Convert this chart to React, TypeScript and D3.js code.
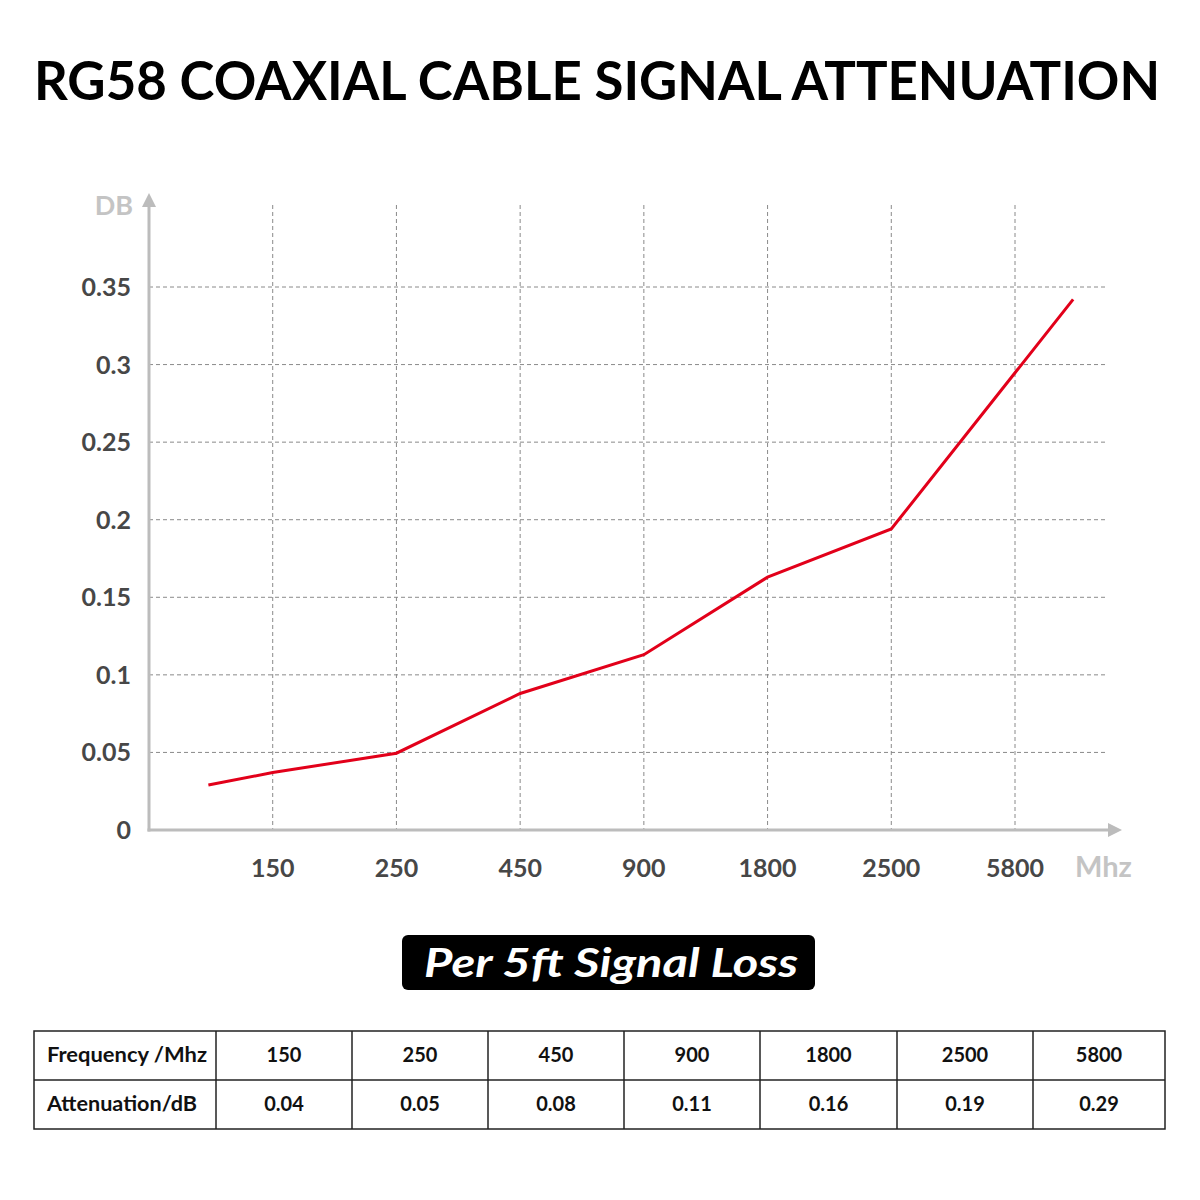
import * as d3 from "d3";
import React from "react";

const frequencies = ["150", "250", "450", "900", "1800", "2500", "5800"];
const tableValues = ["0.04", "0.05", "0.08", "0.11", "0.16", "0.19", "0.29"];
const yTicks = [0, 0.05, 0.1, 0.15, 0.2, 0.25, 0.3, 0.35];
// line slot positions (0 = y axis, 1..7 = categories) and values in dB
const lineSlots = [0.48, 1, 2, 3, 4, 5, 6, 7.47];
const lineValues = [0.029, 0.037, 0.0495, 0.088, 0.113, 0.163, 0.194, 0.342];
const rowHeaders = ["Frequency /Mhz", "Attenuation/dB"];

const FONT = "Lato, 'DejaVu Sans', sans-serif";

const App = () => {
	const x0 = 149,
		y0 = 830;
	const x = d3.scaleLinear().domain([0, 7]).range([x0, 1015]);
	const y = d3.scaleLinear().domain([0, 0.35]).range([y0, 287]);

	const line = d3
		.line<number>()
		.x((_, i) => x(lineSlots[i]))
		.y((d) => y(d));

	const axisColor = "#bcbcbc";
	const gridColor = "#8a8a8a";

	const tableLeft = 34,
		tableRight = 1165,
		tableTop = 1031,
		rowH = 49;
	const colEdges = [tableLeft, 216, 352, 488, 624, 760, 897, 1033, tableRight];

	return (
		<svg width={1200} height={1200} style={{ display: "block", position: "absolute", left: 0, top: 0 }}>
			<rect width={1200} height={1200} fill="#fff" />
			<text
				x={34}
				y={100}
				fontFamily={FONT}
				fontWeight={700}
				fontSize={54}
				textLength={1126}
				lengthAdjust="spacingAndGlyphs"
				fill="#000"
			>
				RG58 COAXIAL CABLE SIGNAL ATTENUATION
			</text>

			{/* grid */}
			<g stroke={gridColor} strokeWidth={1} strokeDasharray="4,3">
				{yTicks.slice(1).map((t) => (
					<line key={t} x1={x0} x2={1105} y1={y(t)} y2={y(t)} />
				))}
				{frequencies.map((f, i) => (
					<line key={f} x1={x(i + 1)} x2={x(i + 1)} y1={205} y2={y0} />
				))}
			</g>

			{/* axes */}
			<g stroke={axisColor} strokeWidth={3} fill="none">
				<line x1={x0} x2={x0} y1={y0 + 1.5} y2={203} />
				<line x1={x0 - 1.5} x2={1112} y1={y0} y2={y0} />
			</g>
			<path d={`M${x0 - 7},${207} L${x0},${193} L${x0 + 7},${207} Z`} fill={axisColor} />
			<path d={`M${1108},${y0 - 7} L${1122},${y0} L${1108},${y0 + 7} Z`} fill={axisColor} />

			<text x={133} y={215} textAnchor="end" fontFamily={FONT} fontWeight={700} fontSize={27} fill="#c4c4c4">
				DB
			</text>
			<text x={1075} y={877} fontFamily={FONT} fontWeight={700} fontSize={29} fill="#c4c4c4">
				Mhz
			</text>

			{yTicks.map((t) => (
				<text
					key={t}
					x={131}
					y={y(t) + 9}
					textAnchor="end"
					fontFamily={FONT}
					fontWeight={700}
					fontSize={25}
					fill="#474747"
				>
					{t === 0 ? "0" : d3.format("")(+t.toFixed(2))}
				</text>
			))}
			{frequencies.map((f, i) => (
				<text
					key={f}
					x={x(i + 1)}
					y={877}
					textAnchor="middle"
					fontFamily={FONT}
					fontWeight={700}
					fontSize={25}
					fill="#474747"
				>
					{f}
				</text>
			))}

			<path d={line(lineValues) ?? ""} fill="none" stroke="#e2001a" strokeWidth={3} />

			{/* banner */}
			<rect x={402} y={935} width={413} height={55} rx={6} fill="#000" />
			<text
				x={611}
				y={977}
				textAnchor="middle"
				fontFamily={FONT}
				fontWeight={700}
				fontStyle="italic"
				fontSize={41}
				fill="#fff"
				textLength={374}
				lengthAdjust="spacingAndGlyphs"
			>
				Per 5ft Signal Loss
			</text>

			{/* table */}
			<g stroke="#222" strokeWidth={1.5} fill="none">
				<rect x={tableLeft} y={tableTop} width={tableRight - tableLeft} height={rowH * 2} />
				<line x1={tableLeft} x2={tableRight} y1={tableTop + rowH} y2={tableTop + rowH} />
				{colEdges.slice(1, -1).map((c) => (
					<line key={c} x1={c} x2={c} y1={tableTop} y2={tableTop + rowH * 2} />
				))}
			</g>
			{rowHeaders.map((h, r) => (
				<text
					key={h}
					x={47}
					y={tableTop + rowH * r + 31}
					fontFamily={FONT}
					fontWeight={700}
					fontSize={20}
					fill="#111"
					textLength={r === 0 ? 160 : 150}
					lengthAdjust="spacingAndGlyphs"
				>
					{h}
				</text>
			))}
			{frequencies.map((f, i) => (
				<g key={f} fontFamily={FONT} fontWeight={700} fontSize={20} fill="#111" textAnchor="middle">
					<text x={(colEdges[i + 1] + colEdges[i + 2]) / 2} y={tableTop + 31}>
						{f}
					</text>
					<text x={(colEdges[i + 1] + colEdges[i + 2]) / 2} y={tableTop + rowH + 31}>
						{tableValues[i]}
					</text>
				</g>
			))}
		</svg>
	);
};

export default App;
